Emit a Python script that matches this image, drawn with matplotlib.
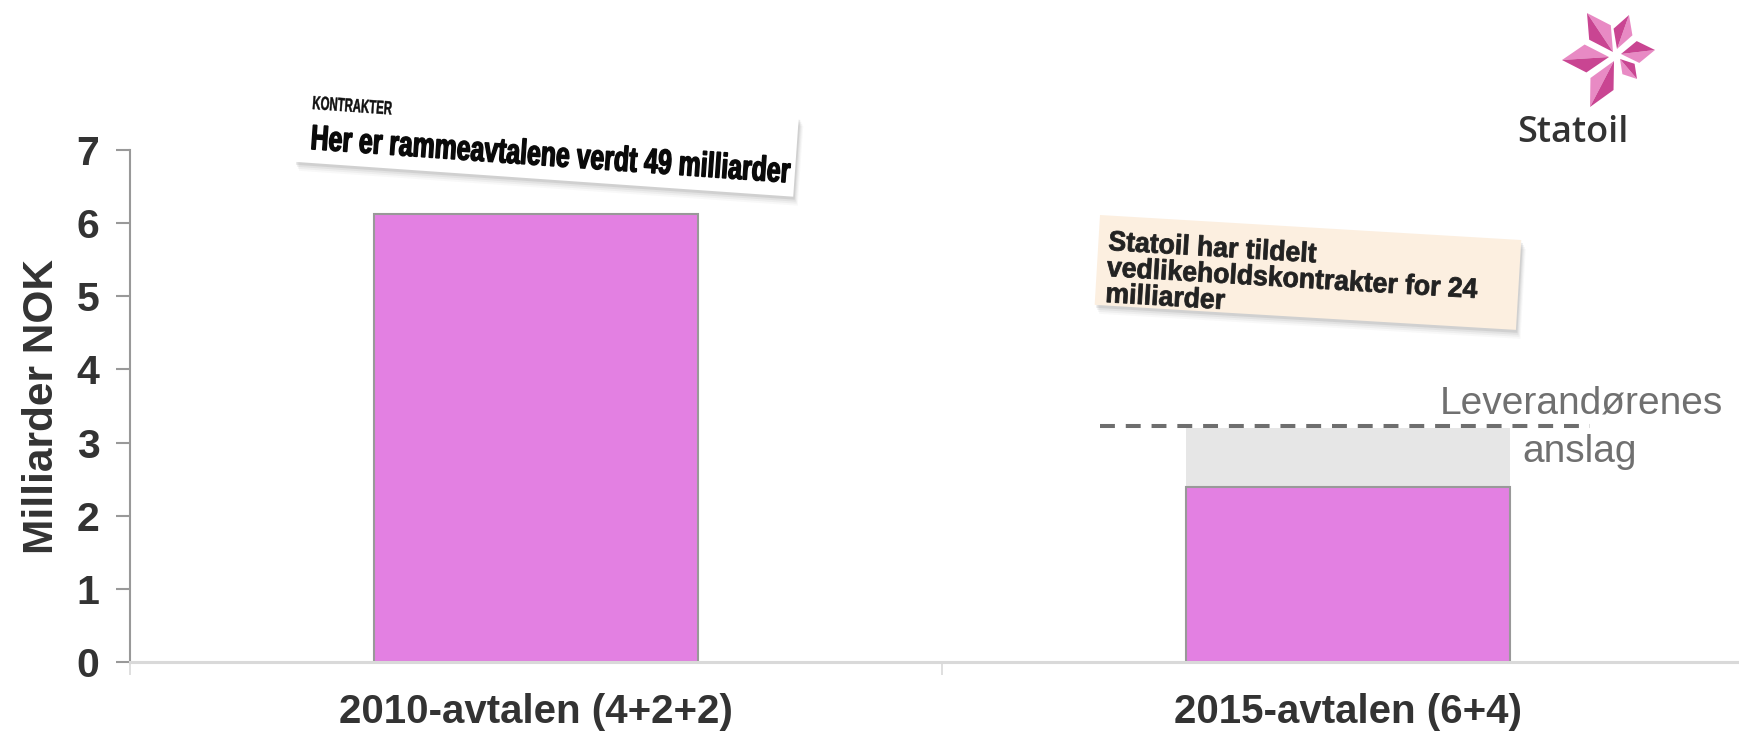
import matplotlib
matplotlib.use("Agg")
import matplotlib.pyplot as plt
import numpy as np
from matplotlib.font_manager import FontProperties
from matplotlib.patches import PathPatch, Polygon
from matplotlib.textpath import TextPath
from matplotlib.transforms import Affine2D

plt.rcParams['font.family'] = ['Liberation Sans', 'DejaVu Sans']

# Data (milliarder NOK)
categories = ["2010-avtalen (4+2+2)", "2015-avtalen (6+4)"]
awarded = [6.13, 2.39]
estimate_cats = [1]
estimate_vals = [3.20]
estimate_line = 3.23
yticks = [0, 1, 2, 3, 4, 5, 6, 7]

headline_2010_kicker = "KONTRAKTER"
headline_2010 = "Her er rammeavtalene verdt 49 milliarder"
headline_2015 = ["Statoil har tildelt", "vedlikeholdskontrakter for 24", "milliarder"]

PINK = '#e380e2'
W, H = 1740, 734

fig = plt.figure(figsize=(W / 100, H / 100), dpi=100)
ax = fig.add_axes([130 / W, 72 / H, 1624 / W, 512 / H])

x = np.arange(len(categories))
ax.bar(estimate_cats, estimate_vals, width=0.4, color='#e6e6e6', zorder=1)
ax.bar(x, awarded, width=0.4, color=PINK, edgecolor='#999999', linewidth=1.5, zorder=2)
ax.plot([0.695, 1.298], [estimate_line, estimate_line], color='#6e6e6e', lw=2.9,
        ls=(0, (3.7, 2.7)), solid_capstyle='butt', zorder=3, clip_on=False)
ax.text(1.288, 3.40, "Leverandørenes", ha='center', va='baseline', fontsize=28,
        color='#707070', clip_on=False, zorder=4)
ax.text(1.285, 2.73, "anslag", ha='center', va='baseline', fontsize=28,
        color='#707070', clip_on=False, zorder=4)

ax.set_xlim(-0.5, 1.5)
ax.set_ylim(0, 7)
ax.set_yticks(yticks)
ax.set_xticks(x)
ax.set_xticklabels(categories)
ax.set_xticks([-0.5, 0.5, 1.5], minor=True)

for side in ['top', 'right']:
    ax.spines[side].set_visible(False)
ax.spines['left'].set_color('#999999')
ax.spines['left'].set_linewidth(1.5)
ax.spines['bottom'].set_color('#d9d9d9')
ax.spines['bottom'].set_linewidth(2.2)
ax.spines['bottom'].set_zorder(5)

ax.tick_params(axis='y', length=10, width=1.5, color='#999999', labelsize=29.5,
               labelcolor='#333333', pad=12)
ax.tick_params(axis='x', which='major', length=0, labelsize=29, labelcolor='#333333', pad=22)
ax.tick_params(axis='x', which='minor', length=9.5, width=1.2, color='#d9d9d9')
for lbl in ax.get_yticklabels() + ax.get_xticklabels():
    lbl.set_fontweight('bold')

ax.set_ylabel("Milliarder NOK", fontsize=30.5, fontweight='bold', color='#333333')
ax.yaxis.set_label_coords(-0.042, 0.5)

# overlay in image pixel coordinates for the clippings and logo
over = fig.add_axes([0, 0, 1, 1], zorder=5)
over.set_xlim(0, W)
over.set_ylim(H, 0)
over.axis('off')


def rot_rect(x0, y0, w, h, ang):
    c, s = np.cos(np.radians(ang)), np.sin(np.radians(ang))
    pts = np.array([[0, 0], [w, 0], [w, h], [0, h]], dtype=float)
    rot = np.array([[c, -s], [s, c]])
    return pts @ rot.T + [x0, y0]


def clipping(x0, y0, w, h, ang, color):
    corners = rot_rect(x0, y0, w, h, ang)
    for k, a in [(9, 0.04), (7, 0.06), (5, 0.08), (3, 0.12)]:
        over.add_patch(Polygon(corners + [k * 0.5, k], closed=True, color='#555555',
                               alpha=a, lw=0))
    over.add_patch(Polygon(corners, closed=True, facecolor=color, lw=0))


def path_text(s, x0, y0, size, sx, ang, color, stroke=0.0):
    prop = FontProperties(family='Liberation Sans', weight='bold')
    tp = TextPath((0, 0), s, size=size, prop=prop)
    tr = Affine2D().scale(sx, -1).rotate_deg(ang).translate(x0, y0)
    over.add_patch(PathPatch(tr.transform_path(tp), facecolor=color, edgecolor=color,
                             lw=stroke))


clipping(300, 82, 500, 80, 4, 'white')
path_text(headline_2010_kicker, 312, 109, 19, 0.6, 4, '#111111', 0.3)
path_text(headline_2010, 310, 149, 35, 0.71, 4, '#0a0a0a', 1.0)

clipping(1100, 215, 422, 90, 3.4, '#fcefe0')
for i, line in enumerate(headline_2015):
    path_text(line, 1108 - i * 1.5, 250 + i * 26, 28, 0.95, 3.4, '#222222', 0.6)

# Statoil logo
petals = [((1613, 52), (1587, 13), 13), ((1617, 49), (1629, 15), 10),
          ((1621, 54), (1655, 50), 11), ((1620, 59), (1637, 79), 8),
          ((1614, 61), (1590, 107), 13), ((1609, 57), (1562, 60), 14)]
for p0, p1, hw in petals:
    p0, p1 = np.array(p0, float), np.array(p1, float)
    d = p1 - p0
    n = np.array([-d[1], d[0]]) / np.hypot(*d)
    mid = (p0 + p1) / 2
    over.add_patch(Polygon([p0, mid + n * hw, p1], color='#e88ac4', lw=0))
    over.add_patch(Polygon([p0, mid - n * hw, p1], color='#c94592', lw=0))
over.text(1517, 142, "Statoil", fontsize=26, color='#333333', va='baseline',
          fontweight='semibold', family=['Open Sans', 'DejaVu Sans'])

fig.savefig("out.png", dpi=100)
